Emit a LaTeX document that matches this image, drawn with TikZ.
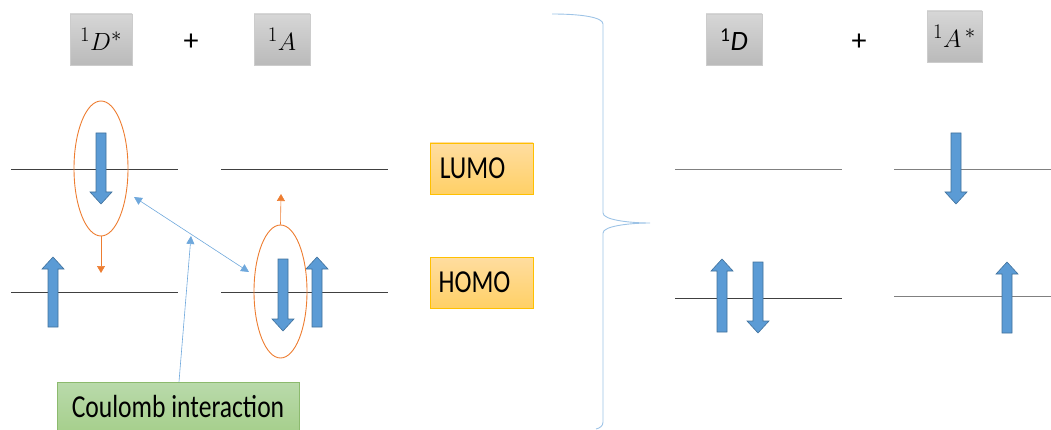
\documentclass[tikz,border=0pt]{standalone}
\usepackage{fontspec}
\setmainfont{Carlito}
\newfontfamily\carlnarrow[FakeStretch=0.8]{Carlito}
\usetikzlibrary{arrows.meta,shapes.geometric}
\definecolor{blkfill}{HTML}{5B9BD5}
\definecolor{blkline}{HTML}{41719C}
\definecolor{orng}{HTML}{ED7D31}
\definecolor{thinblue}{HTML}{6FA8DC}
\definecolor{bracec}{HTML}{9DC3E6}
\definecolor{otop}{HTML}{FFDDA0}
\definecolor{obot}{HTML}{FFD066}
\definecolor{oline}{HTML}{FFC000}
\definecolor{gtop}{HTML}{B9DAAB}
\definecolor{gbot}{HTML}{A6CF8C}
\definecolor{gline}{HTML}{8CBA6E}
\tikzset{
  level/.style={draw=black!75, line width=0.8pt},
  blk/.style={draw=blkline, fill=blkfill, line width=0.6pt},
  gbox/.style={draw=black!20, top color=black!16, bottom color=black!27, line width=0.6pt,
    minimum height=51, inner sep=0pt, font=\fontsize{28}{32}\selectfont},
  obox/.style={draw=oline, top color=otop, bottom color=obot,
    line width=0.6pt, minimum width=103, minimum height=51, inner sep=0pt,
    font=\carlnarrow\fontsize{32}{36}\selectfont, text=black},
  gnbox/.style={draw=gline, top color=gtop, bottom color=gbot,
    line width=0.6pt, inner sep=0pt, font=\carlnarrow\fontsize{32}{36}\selectfont},
  oell/.style={draw=orng, line width=0.9pt, ellipse, inner sep=0pt},
  oarr/.style={draw=orng, line width=0.6pt, -{Triangle[length=7pt,width=8pt]}},
  barr/.style={draw=thinblue, line width=0.6pt},
  plus/.style={font=\fontsize{30}{32}\selectfont}
}
\newcommand\blkup[3]{%
  \draw[blk] ({#1-5},{#3}) -- ({#1-5},{#2+12}) -- ({#1-11},{#2+12}) -- ({#1},{#2}) --
    ({#1+11},{#2+12}) -- ({#1+5},{#2+12}) -- ({#1+5},{#3}) -- cycle;}
\newcommand\blkdown[3]{%
  \draw[blk] ({#1-5},{#2}) -- ({#1-5},{#3-12}) -- ({#1-11},{#3-12}) -- ({#1},{#3}) --
    ({#1+11},{#3-12}) -- ({#1+5},{#3-12}) -- ({#1+5},{#2}) -- cycle;}
\begin{document}
\begin{tikzpicture}[x=1pt,y=-1pt]
\useasboundingbox (0,0) rectangle (1051,430);

% top labels
\node[gbox, minimum width=62] (Dstar) at (101,39.5) {$^1D^*$};
\node[plus] (p1) at (191,42) {+};
\node[gbox, minimum width=56] (A) at (282,39.5) {$^1A$};
\node[gbox, minimum width=56] (D) at (734,39.5) {\textsuperscript{1}\textit{D}};
\node[plus] (p2) at (859,42) {+};
\node[gbox, minimum width=55] (Astar) at (954.5,36.5) {$^1A^{\,*}$};

% levels left
\draw[level] (11,169) -- (178,169);
\draw[level] (221,169) -- (388,169);
\draw[level] (11,292) -- (178,292);
\draw[level] (221,292) -- (388,292);
% levels right
\draw[level, draw=black!50] (675,169) -- (842,169);
\draw[level, draw=black!50] (894,169) -- (1051,169);
\draw[level] (675,298) -- (842,298);
\draw[level, draw=black!50] (894,296) -- (1051,296);

% spins left
\blkdown{101}{133}{204}
\blkup{53}{257}{327}
\blkdown{283}{259}{331}
\blkup{317}{257}{327}
% spins right
\blkup{722}{259}{332}
\blkdown{758}{262}{333}
\blkdown{956}{133}{204}
\blkup{1007}{262}{333}

% ellipses
\node[oell, minimum width=54, minimum height=135] (e1) at (101,168.5) {};
\node[oell, minimum width=53, minimum height=133] (e2) at (280.5,291.5) {};
\coordinate (o1) at (101,273);
\coordinate (o2) at (281,194);
\draw[oarr] (e1.south) -- (o1);
\draw[oarr] (e2.north) -- (o2);

% Coulomb double arrow
\coordinate (c1) at (134,197);
\coordinate (c2) at (249,272);
\draw[barr, {Triangle[length=8pt,width=8pt]}-{Triangle[length=8pt,width=8pt]}] (c1) -- (c2);

% LUMO / HOMO
\node[obox] (lumo) at (481.5,168.5) {\hspace*{-18pt}LUMO};
\node[obox] (homo) at (481.5,282.5) {\hspace*{-14pt}HOMO};

% Coulomb box
\node[gnbox, minimum width=242, minimum height=50] (coul) at (178,407) {Coulomb interaction};
\coordinate (ct) at (191,236);
\draw[barr, -{Triangle[length=8pt,width=8pt]}] ([xshift=1pt]coul.north) -- (ct);

% brace
\draw[draw=bracec, line width=0.9pt]
  (552,14) .. controls (580,14) and (603,17) .. (603,24)
  -- (603,213) .. controls (603,220) and (630,223) .. (650,223)
  .. controls (630,223) and (603,226) .. (603,233)
  -- (603,422) .. controls (603,426) and (600,428) .. (596,429);
\end{tikzpicture}
\end{document}
